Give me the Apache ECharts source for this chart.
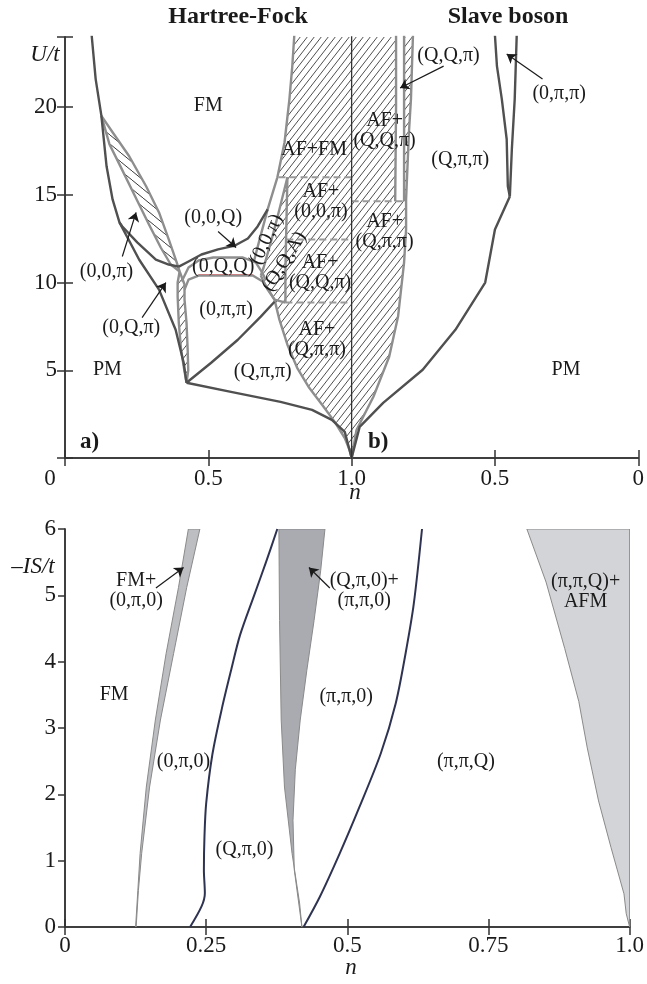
<!DOCTYPE html>
<html>
<head>
<meta charset="utf-8">
<script src="https://cdn.jsdelivr.net/npm/echarts@6/dist/echarts.min.js"></script>
<style>
  html, body { margin: 0; padding: 0; background: #fff; }
  #chart { width: 647px; height: 984px; }
</style>
</head>
<body>
<div id="chart"></div>
<script>
// ---- top panel, Hartree-Fock half: [n, U/t]
const hfPmFm = [[0.093,24.1],[0.107,21.6],[0.127,19.5],[0.145,16.63],[0.166,14.74],[0.19,13.43],[0.259,11.3],[0.328,9.6],[0.386,7.31],[0.414,5.43],[0.424,4.29]];
const hfBranch = [[0.19,13.43],[0.2,13.2],[0.252,12.29],[0.317,11.31],[0.362,11.03],[0.397,10.91]];
const hfWedgeUp = [[0.127,19.5],[0.166,18.57],[0.224,17.2],[0.283,15.49],[0.328,14.0],[0.362,12.46],[0.39,11.14],[0.4,10.63]];
const hfWedgeLo = [[0.127,19.5],[0.155,17.89],[0.19,16.74],[0.241,15.03],[0.293,13.31],[0.334,12.0],[0.369,11.03],[0.4,10.63]];
const hfStripL = [[0.4,10.63],[0.393,10.0],[0.393,9.2],[0.397,7.71],[0.405,6.17],[0.416,5.03],[0.424,4.29]];
const hfStripR = [[0.4,10.63],[0.417,9.89],[0.417,9.03],[0.424,7.71],[0.428,6.17],[0.43,5.0],[0.424,4.29]];
const hfPipiTop = [[0.417,9.6],[0.431,10.17],[0.466,10.4],[0.655,10.4],[0.69,10.06],[0.714,9.49],[0.731,9.03]];
const hfLensTop = [[0.407,10.06],[0.431,10.86],[0.466,11.26],[0.517,11.43],[0.621,11.43],[0.666,11.14],[0.686,10.63],[0.7,10.17]];
const hfLensRed = [[0.466,10.46],[0.655,10.46]];
const hf00Q = [[0.397,10.91],[0.431,11.2],[0.476,11.6],[0.534,11.89],[0.593,12.11],[0.638,12.51],[0.672,13.2],[0.707,14.17]];
const hfFmAf = [[0.8,24.1],[0.793,22.34],[0.783,20.46],[0.766,18.0],[0.741,16.0],[0.707,14.17],[0.679,12.46],[0.659,11.2]];
const hfL2 = [[0.776,16.0],[0.748,14.17],[0.721,12.46],[0.693,10.86],[0.683,10.4]];
const hfL3 = [[0.776,16.0],[0.772,13.03],[0.769,10.74],[0.769,8.86]];
const hfTriBottom = [[0.683,10.4],[0.707,9.6],[0.731,9.03],[0.769,8.86]];
const hfAfLower = [[0.731,9.03],[0.748,7.89],[0.776,6.46],[0.81,5.14],[0.852,4.0],[0.897,3.03],[0.941,2.06],[0.976,1.14],[0.993,0.46],[1.0,0]];
const hfPipiQpipi = [[0.424,4.29],[0.51,5.43],[0.603,6.74],[0.683,8.06],[0.731,8.91]];
const hfQpipiPm = [[0.424,4.29],[0.579,3.77],[0.752,3.2],[0.862,2.74],[0.931,2.17],[0.976,1.49],[1.0,0]];
const hfDashed = [[[0.745,16],[1,16]], [[0.772,12.46],[1,12.46]], [[0.769,8.86],[1,8.86]]];

// ---- top panel, slave boson half: [n, U/t]  (n runs 1 -> 0 to the right)
const sbStripL = [[0.845,24.1],[0.845,20],[0.848,14.63]];
const sbStripR = [[0.817,14.63],[0.817,24.1]];
const sbAfEdge = [[0.786,24.1],[0.793,20.46],[0.8,18.57],[0.81,14.74],[0.81,13.03],[0.817,11.14],[0.838,8.06],[0.869,5.77],[0.924,3.49],[0.983,1.6],[1.0,0]];
const sbPm = [[1.0,0],[0.972,1.77],[0.89,3.14],[0.752,5.03],[0.638,7.31],[0.534,10.0],[0.5,13.03],[0.448,14.91]];
const sbFmL = [[0.448,14.91],[0.455,15.49],[0.459,18.17],[0.476,20.46],[0.493,22.34],[0.5,24.1]];
const sbFmR = [[0.448,14.91],[0.441,17.6],[0.431,20.46],[0.424,24.1]];
const sbDashed = [[1,14.63],[0.81,14.63]];

// ---- bottom panel: [n, -IS/t]
const fmStripL = [[0.125,0],[0.129,0.55],[0.133,1.11],[0.144,2.11],[0.16,3.12],[0.179,4.12],[0.201,5.12],[0.2185,6]];
const fmStripR = [[0.2389,6],[0.2156,5.12],[0.1923,4.12],[0.169,3.12],[0.1498,2.11],[0.1358,1.11],[0.13,0.55],[0.126,0]];
const qStripL = [[0.4196,0],[0.4155,0.36],[0.4021,1.11],[0.3887,2.11],[0.3829,3.12],[0.38,4.62],[0.3788,6]];
const qStripR = [[0.4604,6],[0.4528,5.37],[0.4411,4.62],[0.4283,3.87],[0.4166,3.12],[0.4079,2.37],[0.4038,1.61],[0.4061,0.86],[0.4196,0]];
const afmEdge = [[0.818,6],[0.852,5.2],[0.885,4.2],[0.91,3.4],[0.925,2.7],[0.945,1.9],[0.967,1.2],[0.99,0.5],[0.994,0.2],[1,0]];
const line0pi0 = [[0.2215,0],[0.2418,0.31],[0.2477,0.51],[0.246,0.86],[0.247,1.36],[0.25,1.86],[0.261,2.6],[0.278,3.3],[0.295,3.9],[0.31,4.4],[0.335,5.0],[0.356,5.5],[0.376,6]];
const linePiPi = [[0.4225,0],[0.4516,0.46],[0.4866,1.11],[0.5215,1.81],[0.5594,2.62],[0.5857,3.37],[0.6031,4.12],[0.6177,4.87],[0.6323,6]];

// ---- labels [x, y, text, rotation]
const hfLabels = [
  [0.5,20.06,'FM'], [0.517,13.71,'(0,0,Q)'], [0.145,10.63,'(0,0,π)'], [0.231,7.43,'(0,Q,π)'],
  [0.552,10.91,'(0,Q,Q)'], [0.562,8.46,'(0,π,π)'], [0.69,4.91,'(Q,π,π)'], [0.148,5.03,'PM'],
  [0.869,17.6,'AF+FM'], [0.893,14.6,'AF+\n(0,0,π)'], [0.89,10.55,'AF+\n(Q,Q,π)'], [0.879,6.74,'AF+\n(Q,π,π)'],
  [0.703,12.46,'(0,0,π)',65], [0.765,11.2,'(Q,Q,A)',58]
];
const sbLabels = [
  [0.885,18.63,'AF+\n(Q,Q,π)'], [0.621,17.03,'(Q,π,π)'], [0.885,12.9,'AF+\n(Q,π,π)'],
  [0.662,22.91,'(Q,Q,π)'], [0.276,20.74,'(0,π,π)'], [0.252,5.03,'PM']
];
const panelTags = [[0.086,0.91,'a)'], [2 - 0.907,0.91,'b)']];
const isLabels = [
  [0.126,5.07,'FM+\n(0,π,0)'], [0.087,3.5,'FM'], [0.21,2.49,'(0,π,0)'], [0.318,1.16,'(Q,π,0)'],
  [0.53,5.07,'(Q,π,0)+\n(π,π,0)'], [0.498,3.47,'(π,π,0)'], [0.71,2.49,'(π,π,Q)'], [0.922,5.05,'(π,π,Q)+\nAFM']
];
const hfArrows = [[[0.534,12.91],[0.597,12.0]], [[0.2,11.49],[0.248,14.0]], [[0.269,8.0],[0.352,10.0]]];
const sbArrows = [[[0.679,22.34],[0.831,21.09]], [[0.334,21.6],[0.459,23.03]]];
const isArrows = [[[0.161,5.11],[0.21,5.42]], [[0.469,5.11],[0.432,5.42]]];

const FONT = '"Liberation Serif","DejaVu Serif",serif';
const DARK = '#505050', GREY = '#8e8e8e', INK = '#1a1a1a';

// slave boson n -> x on the shared 0..2 axis
function sb(pts) { return pts.map(p => [2 - p[0], p[1]]); }

function hatch(w, h, dir, color, lw) {
  const c = document.createElement('canvas');
  c.width = w; c.height = h;
  const g = c.getContext('2d');
  g.strokeStyle = color; g.lineWidth = lw;
  g.beginPath();
  for (let k = -1; k <= 1; k++) {
    if (dir > 0) { g.moveTo(k * w, h); g.lineTo(k * w + w, 0); }
    else { g.moveTo(k * w, 0); g.lineTo(k * w + w, h); }
  }
  g.stroke();
  return c;
}
const hatchMain = { image: hatch(7, 9, 1, '#3a3a3a', 0.9), repeat: 'repeat' };
const hatchWedge = { image: hatch(11, 9, -1, '#3a3a3a', 1), repeat: 'repeat' };

function lineS(data, color, width, xi, yi, dash, smooth) {
  return {
    type: 'line', xAxisIndex: xi, yAxisIndex: yi, data: data,
    showSymbol: false, symbol: 'none', silent: true, clip: true, z: 3, smooth: smooth || false,
    lineStyle: { color: color, width: width, type: dash ? [7, 4] : 'solid', join: 'round' }
  };
}
function polyS(pts, fill, xi, yi, stroke) {
  return {
    type: 'custom', xAxisIndex: xi, yAxisIndex: yi, silent: true, clip: true, z: 1,
    data: [[pts[0][0], pts[0][1]]],
    renderItem: (params, api) => ({
      type: 'polygon',
      shape: { points: pts.map(p => api.coord(p)) },
      style: { fill: fill, stroke: stroke || null, lineWidth: 1 }
    })
  };
}
function textS(items, xi, yi, font) {
  return {
    type: 'custom', xAxisIndex: xi, yAxisIndex: yi, silent: true, z: 5,
    data: items.map(d => [d[0], d[1]]),
    renderItem: (params, api) => {
      const d = items[params.dataIndex];
      const c = api.coord([d[0], d[1]]);
      return {
        type: 'text', x: c[0], y: c[1], rotation: (d[3] || 0) * Math.PI / 180,
        style: { text: d[2], font: font, fill: INK, align: 'center', verticalAlign: 'middle', lineHeight: 20 }
      };
    }
  };
}
function arrowS(list, xi, yi) {
  return {
    type: 'lines', coordinateSystem: 'cartesian2d', xAxisIndex: xi, yAxisIndex: yi,
    data: list.map(a => ({ coords: a })), symbol: ['none', 'arrow'], symbolSize: 9,
    lineStyle: { color: INK, width: 1.2, opacity: 1 }, silent: true, z: 4
  };
}

const labelFont = '20px ' + FONT;
const tickLabel = { color: INK, fontFamily: FONT, fontSize: 23 };
const axisLine = { lineStyle: { color: '#333', width: 1.5 } };
const tickIn = { inside: true, length: 8, lineStyle: { color: '#333', width: 1.5 } };

// axis indices: top panel uses x 0 / y 0, bottom panel uses x 2 / y 2
const series = [];
// hatched areas
series.push(polyS(hfFmAf.slice(0, 5).concat(hfL2, hfTriBottom.slice(1, 3), hfAfLower.slice(1), [[1, 24.1]]), hatchMain, 0, 0));
series.push(polyS(sb([[1, 24.1]].concat(sbStripL, sbStripR, sbAfEdge)), hatchMain, 0, 0));
series.push(polyS(hfWedgeUp.concat(hfWedgeLo.slice().reverse()), hatchWedge, 0, 0));
series.push(polyS(hfStripL.concat(hfStripR.slice().reverse()), hatchMain, 0, 0));
// dashed levels
hfDashed.forEach(d => series.push(lineS(d, '#9a9a9a', 2, 0, 0, true)));
series.push(lineS(sb(sbDashed), '#9a9a9a', 2, 0, 0, true));
// grey boundaries
[hfWedgeUp, hfWedgeLo, hfStripL, hfStripR, hfPipiTop, hfLensTop, hfFmAf, hfL2, hfL3, hfTriBottom, hfAfLower]
  .forEach(d => series.push(lineS(d, GREY, 2.4, 0, 0)));
[sbStripL, sbStripR, sbAfEdge].forEach(d => series.push(lineS(sb(d), GREY, 2.4, 0, 0)));
series.push(lineS(hfLensRed, '#c98080', 1.2, 0, 0));
// dark boundaries
[hfPmFm, hfBranch, hf00Q, hfPipiQpipi, hfQpipiPm].forEach(d => series.push(lineS(d, DARK, 2.4, 0, 0)));
[sbPm, sbFmL, sbFmR].forEach(d => series.push(lineS(sb(d), DARK, 2.4, 0, 0)));
series.push(lineS([[1, 0], [1, 24.1]], '#333', 1.3, 0, 0));
// labels and arrows, top
series.push(textS(hfLabels, 0, 0, labelFont));
series.push(textS(sbLabels.map(d => [2 - d[0], d[1], d[2]]), 0, 0, labelFont));
series.push(textS(panelTags, 0, 0, 'bold 23px ' + FONT));
series.push(arrowS(hfArrows, 0, 0));
series.push(arrowS(sbArrows.map(a => sb(a)), 0, 0));

// bottom panel
series.push(polyS(fmStripL.concat(fmStripR), '#bcbec2', 2, 2, '#8a8a8a'));
series.push(polyS(qStripL.concat(qStripR), '#a9abb0', 2, 2, '#8a8a8a'));
series.push(polyS(afmEdge.concat([[1, 6]]), '#d3d4d7', 2, 2, '#8a8a8a'));
series.push(lineS(line0pi0, '#2f3352', 2, 2, 2, false, 0.3));
series.push(lineS(linePiPi, '#2f3352', 2, 2, 2, false, 0.3));
series.push(textS(isLabels, 2, 2, labelFont));
series.push(arrowS(isArrows, 2, 2));

const chart = echarts.init(document.getElementById('chart'), null, { renderer: 'canvas' });
chart.setOption({
  animation: false,
  backgroundColor: '#fff',
  grid: [
    { left: 65, top: 37, width: 580, height: 421 },
    { left: 65, top: 529, width: 572, height: 398 }
  ],
  xAxis: [
    { gridIndex: 0, type: 'value', min: 0, max: 2, interval: 0.5, position: 'bottom',
      axisLine: axisLine, axisTick: tickIn, splitLine: { show: false },
      axisLabel: Object.assign({ margin: 9,
        formatter: v => v === 0 ? '{l|0}' : (v === 1 ? '1.0' : String(v < 1 ? v : +(2 - v).toFixed(2))),
        rich: { l: { fontFamily: FONT, fontSize: 23, color: INK, padding: [0, 30, 0, 0] } } }, tickLabel) },
    { gridIndex: 0, type: 'value', min: 0, max: 2, interval: 0.5, position: 'top',
      axisLine: axisLine, axisTick: tickIn, axisLabel: { show: false }, splitLine: { show: false } },
    { gridIndex: 1, type: 'value', min: 0, max: 1, interval: 0.25, position: 'bottom',
      axisLine: axisLine, axisTick: tickIn, splitLine: { show: false },
      axisLabel: Object.assign({ margin: 7, formatter: v => v === 1 ? '1.0' : String(v) }, tickLabel) },
    { gridIndex: 1, type: 'value', min: 0, max: 1, interval: 0.25, position: 'top',
      axisLine: axisLine, axisTick: tickIn, axisLabel: { show: false }, splitLine: { show: false } }
  ],
  yAxis: [
    { gridIndex: 0, type: 'value', min: 0, max: 24, interval: 5, position: 'left',
      axisLine: axisLine, axisTick: tickIn, splitLine: { show: false },
      axisLabel: Object.assign({ margin: 8, formatter: v => (v > 0 && v % 5 === 0) ? String(v) : '' }, tickLabel) },
    { gridIndex: 0, type: 'value', min: 0, max: 24, interval: 5, position: 'right',
      axisLine: axisLine, axisTick: tickIn, axisLabel: { show: false }, splitLine: { show: false } },
    { gridIndex: 1, type: 'value', min: 0, max: 6, interval: 1, position: 'left',
      axisLine: axisLine, axisTick: { inside: false, length: 7, lineStyle: { color: '#333', width: 1.5 } },
      splitLine: { show: false }, axisLabel: Object.assign({ margin: 9 }, tickLabel) },
    { gridIndex: 1, type: 'value', min: 0, max: 6, position: 'right',
      axisLine: axisLine, axisTick: { show: false }, axisLabel: { show: false }, splitLine: { show: false } }
  ],
  graphic: [
    { type: 'text', x: 238, y: 17, style: { text: 'Hartree-Fock', font: 'bold 24px ' + FONT, fill: INK, align: 'center', verticalAlign: 'middle' } },
    { type: 'text', x: 508, y: 17, style: { text: 'Slave boson', font: 'bold 24px ' + FONT, fill: INK, align: 'center', verticalAlign: 'middle' } },
    { type: 'text', x: 45, y: 55, style: { text: 'U/t', font: 'italic 23px ' + FONT, fill: INK, align: 'center', verticalAlign: 'middle' } },
    { type: 'text', x: 355, y: 493, style: { text: 'n', font: 'italic 23px ' + FONT, fill: INK, align: 'center', verticalAlign: 'middle' } },
    { type: 'text', x: 33, y: 567, style: { text: '–IS/t', font: 'italic 23px ' + FONT, fill: INK, align: 'center', verticalAlign: 'middle' } },
    { type: 'text', x: 351, y: 968, style: { text: 'n', font: 'italic 23px ' + FONT, fill: INK, align: 'center', verticalAlign: 'middle' } }
  ],
  series: series
});
</script>
</body>
</html>
